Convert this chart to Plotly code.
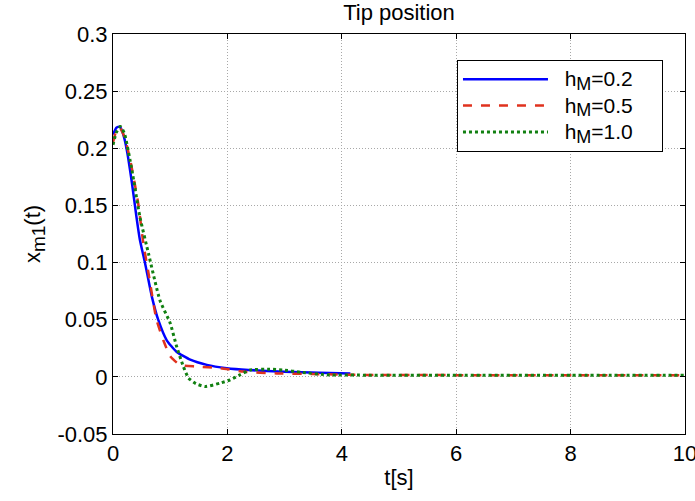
import plotly.graph_objects as go

# Data
t_b = [0, 0.06, 0.12, 0.18, 0.24, 0.33, 0.41, 0.47, 0.56, 0.68, 0.79, 0.94, 1.11, 1.35, 1.64, 1.99, 2.37, 3.0, 3.6, 4.15]
x_b = [0.212, 0.218, 0.219, 0.212, 0.199, 0.170, 0.140, 0.120, 0.0996, 0.070, 0.050, 0.032, 0.022, 0.015, 0.0105, 0.0076, 0.006, 0.0045, 0.0035, 0.003]

t_r = [0, 0.05, 0.12, 0.2, 0.30, 0.44, 0.53, 0.62, 0.76, 0.88, 1.0, 1.17, 1.46, 1.87, 2.28, 2.86, 3.5, 4.2, 6, 8, 10]
x_r = [0.205, 0.214, 0.218, 0.210, 0.190, 0.152, 0.117, 0.091, 0.050, 0.032, 0.018, 0.0105, 0.009, 0.0076, 0.0046, 0.003, 0.0025, 0.0018, 0.0015, 0.0015, 0.0015]

t_g = [0, 0.06, 0.13, 0.2, 0.33, 0.47, 0.62, 0.82, 1.0, 1.11, 1.23, 1.32, 1.45, 1.61, 1.87, 2.05, 2.22, 2.40, 2.74, 2.97, 3.3, 3.74, 4.5, 6, 8, 10]
x_g = [0.203, 0.214, 0.219, 0.213, 0.181, 0.140, 0.108, 0.067, 0.047, 0.027, 0.009, -0.001, -0.006, -0.0085, -0.0055, -0.0026, 0.0018, 0.006, 0.0067, 0.006, 0.004, 0.0018, 0.0015, 0.0015, 0.0015, 0.0015]

x_ticks = [0, 2, 4, 6, 8, 10]
y_ticks = [-0.05, 0, 0.05, 0.1, 0.15, 0.2, 0.25, 0.3]
y_ticklabels = ["-0.05", "0", "0.05", "0.1", "0.15", "0.2", "0.25", "0.3"]

h_values = ["0.2", "0.5", "1.0"]
NB = "\u00a0"
names = [
    f"<span style='font-size:21px'>{NB}{NB}h</span><sub><span style='font-size:18px'>M</span></sub>"
    f"<span style='font-size:21px'>={v}{NB * 4}</span>"
    for v in h_values
]

fig = go.Figure()
fig.add_trace(go.Scatter(x=t_b, y=x_b, mode="lines", name=names[0],
                         line=dict(color="#0000ff", width=2.5, shape="spline", smoothing=0.5)))
fig.add_trace(go.Scatter(x=t_r, y=x_r, mode="lines", name=names[1],
                         line=dict(color="#e0321e", width=2.5, dash="dash", shape="spline", smoothing=0.5)))
fig.add_trace(go.Scatter(x=t_g, y=x_g, mode="lines", name=names[2],
                         line=dict(color="#118011", width=3, dash="dot", shape="spline", smoothing=0.5)))

font = "Liberation Sans, Arial, sans-serif"
axis_common = dict(showline=True, linecolor="black", linewidth=1, mirror="allticks",
                   ticks="inside", ticklen=5, tickcolor="black", automargin=False,
                   showgrid=True, gridcolor="#a8a8a8", griddash="1px,2px", gridwidth=1,
                   zeroline=False, ticklabeloverflow="allow",
                   tickfont=dict(family=font, size=22, color="black"))

W, H = 695, 501
L, R, T, B = 113, 10, 34, 67

fig.update_layout(
    width=W, height=H,
    paper_bgcolor="white", plot_bgcolor="white",
    margin=dict(l=L, r=R, t=T, b=B),
    title=dict(text="Tip position", x=(L + (W - R)) / 2 / W, xanchor="center",
               y=1 - 12 / H, yanchor="middle",
               font=dict(family=font, size=22, color="black")),
    xaxis=dict(range=[0, 10], tickvals=x_ticks,
               title=dict(text="t[s]", font=dict(family=font, size=22, color="black"), standoff=4),
               **axis_common),
    yaxis=dict(range=[-0.05, 0.3], tickvals=y_ticks, ticktext=y_ticklabels,
               title=dict(text="x<sub><span style='font-size:19px'>m1</span></sub>(t)",
                          font=dict(family=font, size=22, color="black"), standoff=10),
               **axis_common),
    legend=dict(x=0.9615, y=0.935, xanchor="right", yanchor="top",
                bordercolor="black", borderwidth=1, bgcolor="white",
                itemwidth=85, font=dict(family=font, size=18, color="black"),
                tracegroupgap=0),
    showlegend=True,
)

# remove the browser's default 8px body margin so the figure fills the window
fig.write_html("out.html", config={"displayModeBar": False},
               post_script="document.body.style.margin='0';")
